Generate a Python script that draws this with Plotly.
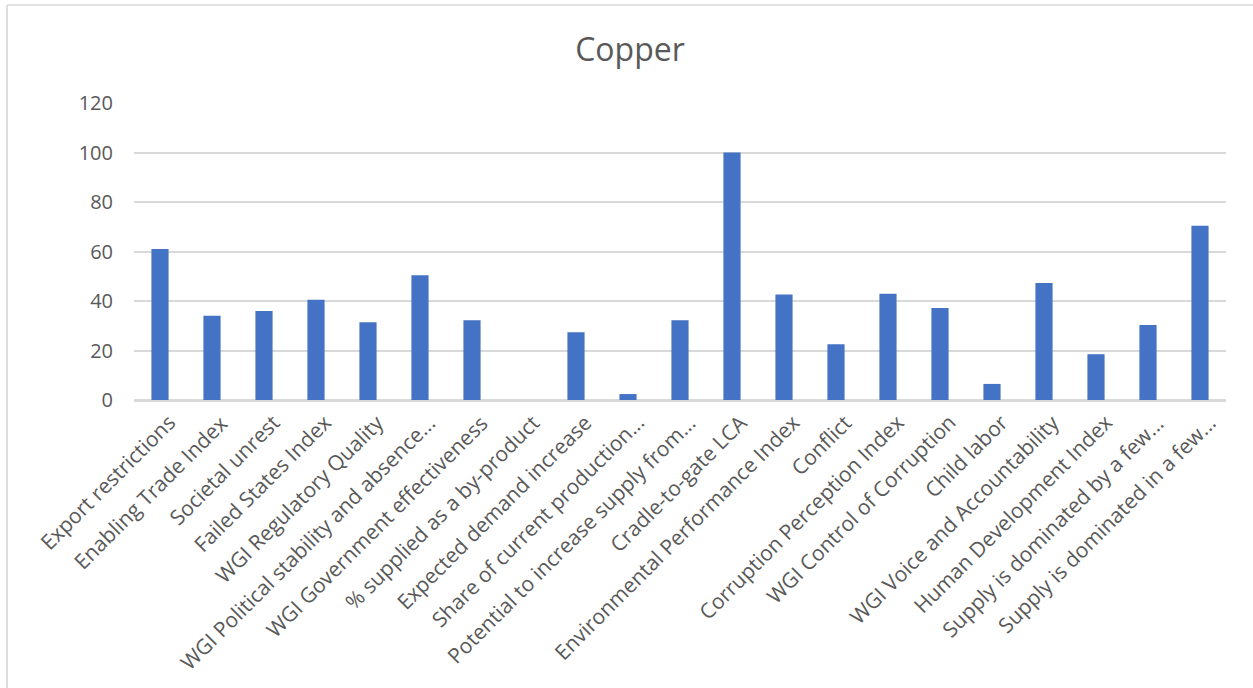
import plotly.graph_objects as go

# Indicator names as they appear on the category axis (long names truncated)
categories = [
    "Export restrictions",
    "Enabling Trade Index",
    "Societal unrest",
    "Failed States Index",
    "WGI Regulatory Quality",
    "WGI Political stability and absence...",
    "WGI Government effectiveness",
    "% supplied as a by-product",
    "Expected demand increase",
    "Share of current production...",
    "Potential to increase supply from...",
    "Cradle-to-gate LCA",
    "Environmental Performance Index",
    "Conflict",
    "Corruption Perception Index",
    "WGI Control of Corruption",
    "Child labor",
    "WGI Voice and Accountability",
    "Human Development Index",
    "Supply is dominated by a few...",
    "Supply is dominated in a few...",
]

# Score for each indicator
scores = [
    61.0, 34.0, 36.0, 40.5, 31.4, 50.4, 32.2, 0.0, 27.4, 2.4, 32.2,
    100.0, 42.6, 22.5, 42.9, 37.2, 6.5, 47.3, 18.5, 30.3, 70.4,
]

y_ticks = [0, 20, 40, 60, 80, 100, 120]

W, H = 1253, 688
ML, MR, MT, MB = 134, 27, 103, 288
plot_w = W - ML - MR
plot_h = H - MT - MB

FONT = "Open Sans"
TEXT = "#595959"
GRID = "#D9D9D9"

fig = go.Figure(
    go.Bar(
        x=categories,
        y=scores,
        marker=dict(color="#4472C4", line=dict(width=0)),
        hoverinfo="x+y",
    )
)


def px_x(px):
    return (px - ML) / plot_w


def px_y(py):
    return (H - MB - py) / plot_h


# Light frame on the left and top of the chart area
frame = dict(type="line", xref="paper", yref="paper",
             line=dict(color=GRID, width=1.7), layer="below")
shapes = [
    dict(frame, x0=px_x(7), x1=px_x(7), y0=px_y(5), y1=px_y(H + 20)),
    dict(frame, x0=px_x(7), x1=px_x(W + 20), y0=px_y(5), y1=px_y(5)),
]

# Category labels, slanted at 45 degrees and ending just right of each bar
labels = [
    dict(
        x=i, xref="x", y=0, yref="paper",
        text=cat, showarrow=False, textangle=-45,
        xanchor="right", yanchor="top",
        xshift=24, yshift=-6,
        font=dict(family=FONT, size=21, color=TEXT),
    )
    for i, cat in enumerate(categories)
]

fig.update_layout(
    width=W,
    height=H,
    margin=dict(l=ML, r=MR, t=MT, b=MB, autoexpand=False),
    paper_bgcolor="white",
    plot_bgcolor="white",
    showlegend=False,
    bargap=0.67,
    font=dict(family=FONT, color=TEXT, size=20),
    title=dict(
        text="Copper",
        x=630 / W,
        xanchor="center",
        y=1 - 50 / H,
        yanchor="middle",
        font=dict(family=FONT, size=32, color=TEXT),
    ),
    xaxis=dict(
        type="category",
        range=[-0.5, len(categories) - 0.5],
        showticklabels=False,
        showgrid=False,
        showline=True,
        linecolor=GRID,
        linewidth=1.5,
        ticks="",
        automargin=False,
    ),
    yaxis=dict(
        range=[0, 120],
        tickvals=y_ticks,
        tickfont=dict(family=FONT, size=20, color=TEXT),
        showgrid=True,
        gridcolor=GRID,
        gridwidth=1.5,
        zeroline=True,
        zerolinecolor=GRID,
        zerolinewidth=1.5,
        showline=False,
        ticks="",
        ticklabelstandoff=20,
        automargin=False,
    ),
    shapes=shapes,
    annotations=labels,
)

fig.write_html("out.html")
